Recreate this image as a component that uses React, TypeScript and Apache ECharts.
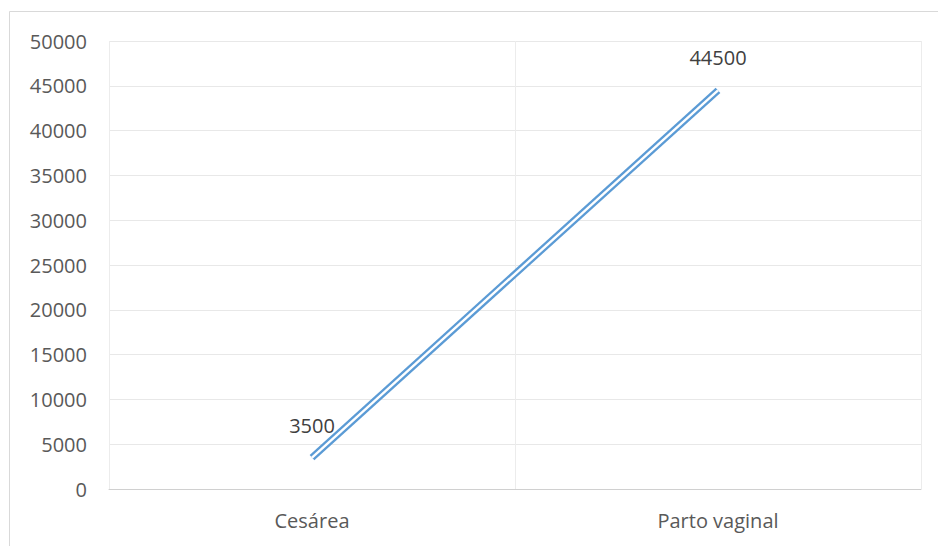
import React, { useEffect, useRef } from "react";
import * as echarts from "echarts";

const categories = ["Cesárea", "Parto vaginal"];
const values = [3500, 44500];
const yMin = 0;
const yMax = 50000;
const yInterval = 5000;

export default function App() {
  const ref = useRef<HTMLDivElement>(null);
  useEffect(() => {
    if (!ref.current) return;
    const chart = echarts.init(ref.current, undefined, { renderer: "svg" });
    const font = "'Open Sans', 'Noto Sans', sans-serif";
    chart.setOption({
      animation: false,
      backgroundColor: "#ffffff",
      graphic: [
        {
          type: "rect",
          shape: { x: 9.5, y: 11.5, width: 1200, height: 1200 },
          style: { fill: "none", stroke: "#d9d9d9", lineWidth: 1 },
          silent: true,
          z: -10,
        },
      ],
      grid: { left: 109, top: 41, right: 17, bottom: 57, containLabel: false },
      xAxis: {
        type: "category",
        data: categories,
        boundaryGap: true,
        axisLine: { show: true, lineStyle: { color: "#d0d0d0", width: 1 } },
        axisTick: { show: false },
        splitLine: { show: true, lineStyle: { color: "#ececec", width: 1 } },
        axisLabel: { color: "#595959", fontSize: 20, fontFamily: font, margin: 21 },
      },
      yAxis: {
        type: "value",
        min: yMin,
        max: yMax,
        interval: yInterval,
        axisLine: { show: false },
        axisTick: { show: false },
        splitLine: { show: true, lineStyle: { color: "#e8e8e8", width: 1 } },
        axisLabel: {
          color: "#595959",
          fontSize: 20,
          fontFamily: font,
          margin: 22,
          formatter: (v: number) => String(v),
        },
      },
      series: [
        {
          type: "line",
          data: values,
          symbol: "circle",
          symbolSize: 1,
          showSymbol: true,
          itemStyle: { opacity: 0 },
          lineStyle: { color: "#5b9bd5", width: 7, cap: "butt" },
          label: {
            show: true,
            position: "top",
            distance: 22,
            color: "#404040",
            fontSize: 20,
            fontFamily: font,
            opacity: 1,
          },
          z: 2,
        },
        {
          type: "line",
          data: values,
          symbol: "none",
          lineStyle: { color: "#ffffff", width: 2.4, cap: "butt" },
          label: { show: false },
          z: 3,
        },
      ],
    });
    return () => chart.dispose();
  }, []);
  return (
    <div
      ref={ref}
      style={{ position: "fixed", left: 0, top: 0, width: 938, height: 546 }}
    />
  );
}
